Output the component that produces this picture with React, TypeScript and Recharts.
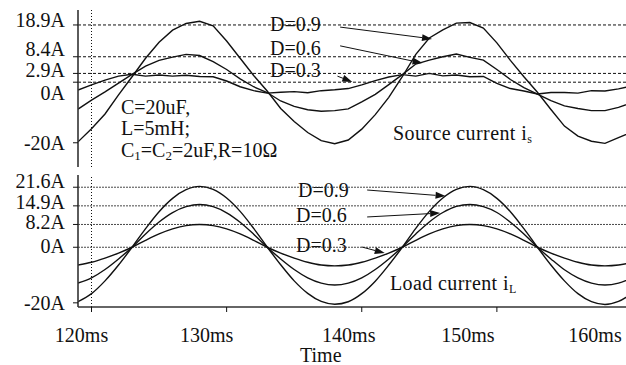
import { LineChart, Line, XAxis, YAxis, ReferenceLine } from "recharts";

// time in ms, one sample per ms
const time = [
  119, 120, 121, 122, 123, 124, 125, 126, 127, 128, 129, 130, 131, 132, 133, 134, 135, 136, 137, 138, 139,
  140, 141, 142, 143, 144, 145, 146, 147, 148, 149, 150, 151, 152, 153, 154, 155, 156, 157, 158, 159, 160,
];

// source current i_s (A)
const sourceD09 = [
  -19.7, -15.4, -10.5, -4.2, 1.8, 7.9, 13.2, 17.2, 19.4, 20.1, 18.6, 13.6, 7.9, 2.2, -2.9, -8.7, -13.0, -16.6, -19.3, -20.3, -19.1,
  -15.5, -10.7, -5.0, 1.8, 9.2, 14.6, 17.3, 19.5, 19.7, 17.9, 13.0, 7.2, 1.8, -3.3, -9.0, -14.5, -17.8, -19.5, -20.2, -18.3, -16.5,
];
const sourceD06 = [
  -8.9, -5.9, -3.2, -0.3, 2.6, 5.3, 7.2, 8.3, 9.2, 8.8, 6.8, 4.2, 1.1, -1.5, -3.4, -6.2, -8.0, -9.1, -9.6, -9.4, -8.8,
  -6.5, -4.0, -0.8, 2.5, 6.0, 7.3, 8.4, 9.3, 8.2, 7.3, 4.2, 0.9, -1.8, -3.9, -6.1, -7.8, -8.7, -9.4, -9.4, -8.3, -6.8,
];
const sourceD03 = [
  -2.6, -0.9, 0.7, 2.0, 2.6, 2.0, 2.4, 2.0, 2.3, 1.9, 1.8, 0.4, -1.5, -2.8, -3.6, -3.3, -3.1, -3.5, -2.8, -2.5, -2.1,
  -0.9, 0.5, 1.7, 2.5, 2.0, 2.9, 2.1, 2.4, 1.8, 1.9, -0.4, -2.1, -2.9, -3.9, -3.4, -3.4, -3.6, -2.8, -2.9, -2.2, -1.2,
];

// load current i_L (A)
const loadD09 = [
  -19.6, -16.7, -12.1, -6.4, 0.0, 6.7, 12.8, 17.6, 20.7, 21.9, 20.8, 17.7, 12.9, 6.8, 0.1, -6.3, -12.1, -16.6, -19.5, -20.5, -19.6,
  -16.7, -12.2, -6.4, 0.0, 6.8, 12.9, 17.7, 20.8, 21.9, 20.7, 17.6, 12.8, 6.7, 0.0, -6.4, -12.1, -16.7, -19.6, -20.6, -19.5, -16.6,
];
const loadD06 = [
  -12.9, -11.0, -8.0, -4.2, 0.0, 4.8, 9.1, 12.5, 14.6, 15.4, 14.6, 12.4, 9.0, 4.7, 0.0, -4.2, -8.0, -11.0, -12.9, -13.6, -12.9,
  -11.0, -8.0, -4.2, 0.1, 4.8, 9.1, 12.5, 14.7, 15.4, 14.6, 12.5, 9.0, 4.8, 0.0, -4.2, -8.1, -11.0, -12.9, -13.6, -12.9, -11.0,
];
const loadD03 = [
  -6.4, -5.4, -3.9, -2.1, 0.0, 2.5, 4.8, 6.6, 7.8, 8.2, 7.8, 6.6, 4.8, 2.5, 0.0, -2.1, -3.9, -5.4, -6.4, -6.7, -6.4,
  -5.4, -3.9, -2.1, 0.0, 2.5, 4.8, 6.6, 7.8, 8.2, 7.8, 6.6, 4.8, 2.5, 0.0, -2.1, -3.9, -5.4, -6.4, -6.7, -6.4, -5.4,
];

const sourceTicks = [18.9, 8.4, 2.9, 0, -20];
const loadTicks = [21.6, 14.9, 8.2, 0, -20];
const timeTicks = [120, 130, 140, 150, 160];

// arrows [from t, from A, to t, to A]
const sourceArrows = [
  [138.4, 18.2, 145.2, 14.3],
  [138.4, 12.0, 144.5, 6.3],
  [138.2, 2.0, 139.3, 0.1],
];
const loadArrows = [
  [140.4, 20.6, 146.2, 18.4],
  [140.4, 10.9, 145.8, 12.3],
  [140.0, 0.1, 141.7, -2.1],
];

const sourceData = time.map((t, i) => ({ t, d09: sourceD09[i], d06: sourceD06[i], d03: sourceD03[i] }));
const loadData = time.map((t, i) => ({ t, d09: loadD09[i], d06: loadD06[i], d03: loadD03[i] }));

const FONT = "'Liberation Serif', 'Times New Roman', serif";
const INK = "#111";

// hand-placed label nudges in the original figure
const sourceLabelShift: Record<number, number> = { 18.9: -5, 8.4: -8, 2.9: -3, 0: 11, [-20]: 0 };
const loadLabelShift: Record<number, number> = { 21.6: -6, 14.9: -4, 8.2: -2, 0: -1, [-20]: 0 };
const timeLabelShift: Record<number, number> = { 120: -10, 130: -20, 140: -13, 150: -29, 160: -37 };

const yTick = (shift: Record<number, number>) => (props: any) => {
  const { x, y, payload } = props;
  return (
    <text
      x={x - 6}
      y={y + (shift[payload.value] ?? 0)}
      dy="0.35em"
      textAnchor="end"
      fontFamily={FONT}
      fontSize={20}
      fill={INK}
    >
      {`${payload.value}A`}
    </text>
  );
};

const TimeTick = (props: any) => {
  const { x, y, payload } = props;
  return (
    <text
      x={x + (timeLabelShift[payload.value] ?? 0)}
      y={y + 28}
      textAnchor="middle"
      fontFamily={FONT}
      fontSize={20}
      fill={INK}
    >
      {`${payload.value}ms`}
    </text>
  );
};

const Arrow = (props: any) => {
  const { x1, y1, x2, y2 } = props;
  const ang = Math.atan2(y2 - y1, x2 - x1);
  const len = 10;
  const w = 3.5;
  const bx = x2 - len * Math.cos(ang);
  const by = y2 - len * Math.sin(ang);
  const px = -Math.sin(ang) * w;
  const py = Math.cos(ang) * w;
  return (
    <g>
      <line x1={x1} y1={y1} x2={bx} y2={by} stroke={INK} strokeWidth={1} />
      <polygon points={`${x2},${y2} ${bx + px},${by + py} ${bx - px},${by - py}`} fill={INK} />
    </g>
  );
};

const textStyle = { fontFamily: FONT, fontSize: 20, fill: INK };

const Series = (type: "linear" | "monotone") =>
  ["d09", "d06", "d03"].map((k) => (
    <Line
      key={k}
      type={type}
      dataKey={k}
      stroke={INK}
      strokeWidth={1.4}
      dot={false}
      isAnimationActive={false}
    />
  ));

const App = () => {
  return (
    <div
      style={{
        position: "fixed",
        left: 0,
        top: 0,
        width: 626,
        height: 365,
        overflow: "hidden",
        background: "#fff",
      }}
    >
      {/* Source current panel */}
      <div style={{ position: "absolute", left: 0, top: 0 }}>
        <LineChart width={640} height={170} data={sourceData} margin={{ top: 10, right: 8, bottom: 3, left: 0 }}>
          <XAxis
            dataKey="t"
            type="number"
            domain={[119, 160]}
            allowDataOverflow
            ticks={[]}
            tick={false}
            tickLine={false}
            height={0}
            axisLine={{ stroke: "#333", strokeWidth: 1.6 }}
          />
          <XAxis
            xAxisId="top"
            orientation="top"
            dataKey="t"
            type="number"
            domain={[119, 160]}
            tick={false}
            tickLine={false}
            height={0}
            axisLine={{ stroke: "#333", strokeWidth: 1.6 }}
          />
          <YAxis
            type="number"
            domain={[-28, 23.84]}
            allowDataOverflow
            ticks={sourceTicks}
            interval={0}
            width={78}
            tickSize={5}
            tickLine={{ stroke: INK }}
            axisLine={{ stroke: "#333", strokeWidth: 1.6 }}
            tick={yTick(sourceLabelShift)}
          />
          {sourceTicks
            .filter((v) => v >= 0)
            .map((v) => (
              <ReferenceLine key={v} y={v} stroke={INK} strokeWidth={1} strokeDasharray="3 2" />
            ))}
          <ReferenceLine x={120} stroke={INK} strokeWidth={1} strokeDasharray="1 2" />
          {Series("linear")}
          {sourceArrows.map((a, i) => (
            <ReferenceLine
              key={`sa${i}`}
              segment={[
                { x: a[0], y: a[1] },
                { x: a[2], y: a[3] },
              ]}
              shape={Arrow}
            />
          ))}
          <text x={270} y={31} {...textStyle}>D=0.9</text>
          <text x={270} y={55} {...textStyle}>D=0.6</text>
          <text x={270} y={77} {...textStyle}>D=0.3</text>
          <text x={121} y={114} {...textStyle}>C=20uF,</text>
          <text x={121} y={135} {...textStyle}>L=5mH;</text>
          <text x={121} y={157} {...textStyle}>
            C<tspan fontSize={13} dy={3}>1</tspan>
            <tspan dy={-3}>=C</tspan>
            <tspan fontSize={13} dy={3}>2</tspan>
            <tspan dy={-3}>=2uF,R=10Ω</tspan>
          </text>
          <text x={393} y={140} {...textStyle} letterSpacing={0.4}>
            Source current i<tspan fontSize={12} dy={3}>s</tspan>
          </text>
        </LineChart>
      </div>

      {/* Load current panel */}
      <div style={{ position: "absolute", left: 0, top: 165 }}>
        <LineChart width={640} height={200} data={loadData} margin={{ top: 10, right: 8, bottom: 0, left: 0 }}>
          <XAxis
            dataKey="t"
            type="number"
            domain={[119, 160]}
            allowDataOverflow
            ticks={timeTicks}
            interval={0}
            height={58}
            tickSize={5}
            tickLine={{ stroke: INK }}
            axisLine={{ stroke: "#333", strokeWidth: 1.6 }}
            tick={<TimeTick />}
          />
          <XAxis
            xAxisId="top"
            orientation="top"
            dataKey="t"
            type="number"
            domain={[119, 160]}
            tick={false}
            tickLine={false}
            height={0}
            axisLine={{ stroke: "#333", strokeWidth: 1.6 }}
          />
          <YAxis
            type="number"
            domain={[-21.5, 26]}
            allowDataOverflow
            ticks={loadTicks}
            interval={0}
            width={78}
            tickSize={5}
            tickLine={{ stroke: INK }}
            axisLine={{ stroke: "#333", strokeWidth: 1.6 }}
            tick={yTick(loadLabelShift)}
          />
          {loadTicks
            .filter((v) => v >= 0)
            .map((v) => (
              <ReferenceLine key={v} y={v} stroke="#333" strokeWidth={0.9} strokeDasharray="2 1" />
            ))}
          <ReferenceLine x={120} stroke={INK} strokeWidth={1} strokeDasharray="1 2" />
          {Series("monotone")}
          {loadArrows.map((a, i) => (
            <ReferenceLine
              key={`la${i}`}
              segment={[
                { x: a[0], y: a[1] },
                { x: a[2], y: a[3] },
              ]}
              shape={Arrow}
            />
          ))}
          <text x={298} y={32} {...textStyle}>D=0.9</text>
          <text x={296} y={57} {...textStyle}>D=0.6</text>
          <text x={296} y={87} {...textStyle}>D=0.3</text>
          <text x={390} y={125} {...textStyle} letterSpacing={0.4}>
            Load current i<tspan fontSize={12} dy={3}>L</tspan>
          </text>
          <text x={300} y={197} {...textStyle}>Time</text>
        </LineChart>
      </div>
    </div>
  );
};

export default App;
